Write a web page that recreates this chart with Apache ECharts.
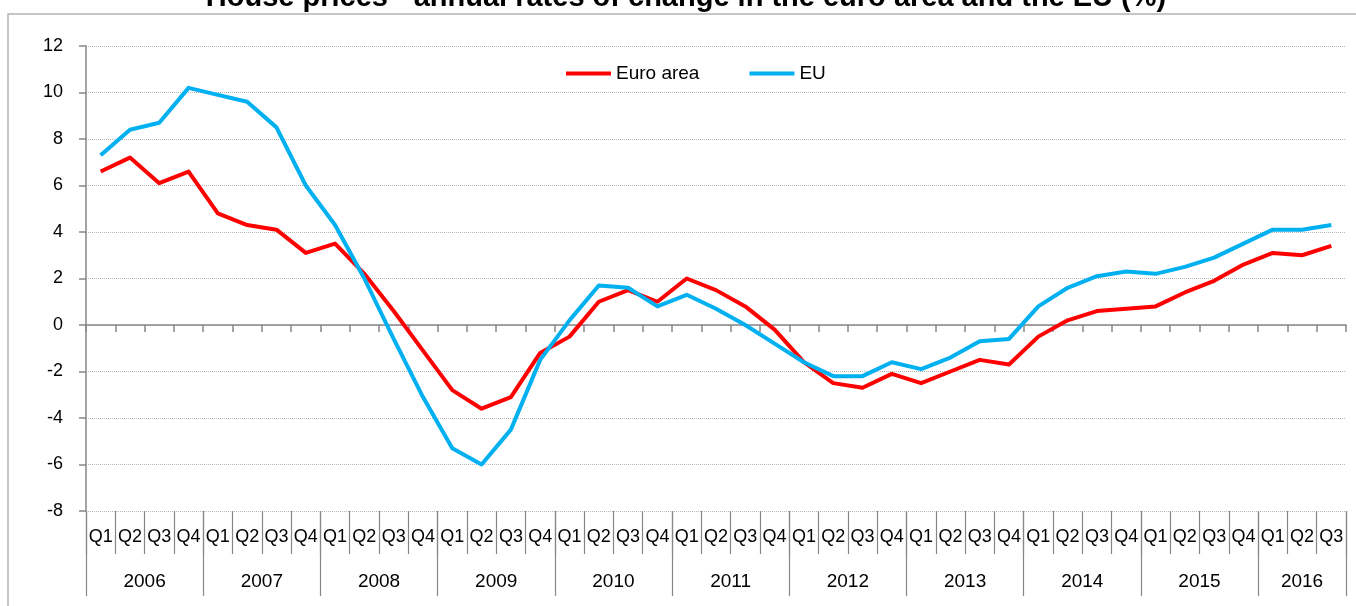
<!DOCTYPE html>
<html>
<head>
<meta charset="utf-8">
<script src="https://cdn.jsdelivr.net/npm/echarts@6/dist/echarts.min.js"></script>
<style>
html,body{margin:0;padding:0;background:#fff;}
#chart{width:1356px;height:606px;}
</style>
</head>
<body>
<div id="chart"></div>
<script>
const titleText = 'House prices - annual rates of change in the euro area and the EU (%)';
const years = ['2006','2007','2008','2009','2010','2011','2012','2013','2014','2015','2016'];
const quarterCounts = [4,4,4,4,4,4,4,4,4,4,3];
const quarterNames = ['Q1','Q2','Q3','Q4'];
const euroArea = [
  6.6, 7.2, 6.1, 6.6,
  4.8, 4.3, 4.1, 3.1,
  3.5, 2.2, 0.6, -1.1,
  -2.8, -3.6, -3.1, -1.2,
  -0.5, 1.0, 1.5, 1.0,
  2.0, 1.5, 0.8, -0.2,
  -1.6, -2.5, -2.7, -2.1,
  -2.5, -2.0, -1.5, -1.7,
  -0.5, 0.2, 0.6, 0.7,
  0.8, 1.4, 1.9, 2.6,
  3.1, 3.0, 3.4
];
const eu = [
  7.3, 8.4, 8.7, 10.2,
  9.9, 9.6, 8.5, 6.0,
  4.3, 2.0, -0.6, -3.1,
  -5.3, -6.0, -4.5, -1.5,
  0.2, 1.7, 1.6, 0.8,
  1.3, 0.7, 0.0, -0.8,
  -1.6, -2.2, -2.2, -1.6,
  -1.9, -1.4, -0.7, -0.6,
  0.8, 1.6, 2.1, 2.3,
  2.2, 2.5, 2.9, 3.5,
  4.1, 4.1, 4.3
];
const yMin = -8, yMax = 12, yStep = 2;

// Build category list and year group boundaries from the arrays above
const categories = [];
const yearBounds = [0];
const yearMids = [];
years.forEach((y, i) => {
  const start = categories.length;
  for (let q = 0; q < quarterCounts[i]; q++) categories.push(quarterNames[q]);
  yearBounds.push(categories.length);
  yearMids.push((start + categories.length) / 2);
});

const FONT = 'Liberation Sans';
const AXIS_GRAY = '#868686';

const chart = echarts.init(document.getElementById('chart'), null, {renderer: 'canvas'});
chart.setOption({
  backgroundColor: '#ffffff',
  animation: false,
  title: {
    text: titleText,
    left: 686,
    textAlign: 'center',
    top: -17,
    padding: 0,
    textStyle: {fontFamily: FONT, fontSize: 29, fontWeight: 'bold', color: '#000'}
  },
  graphic: [{
    type: 'rect',
    shape: {x: 8, y: 14, width: 1500, height: 800},
    style: {fill: 'none', stroke: '#b4b4b4', lineWidth: 1.5},
    silent: true,
    z: -1
  }],
  legend: {
    left: 566,
    top: 64,
    padding: 0,
    itemWidth: 45,
    itemHeight: 4,
    itemGap: 50,
    icon: 'rect',
    textStyle: {fontFamily: FONT, fontSize: 19, color: '#000'},
    data: ['Euro area', 'EU']
  },
  grid: {left: 86, right: 10, top: 46, bottom: 95, containLabel: false},
  xAxis: [
    {
      type: 'category',
      data: categories,
      boundaryGap: true,
      axisLine: {show: true, onZero: true, lineStyle: {color: AXIS_GRAY, width: 1.5}},
      axisTick: {show: true, interval: 0, length: 7, lineStyle: {color: AXIS_GRAY, width: 1.5}},
      axisLabel: {show: false},
      splitLine: {show: false}
    },
    {
      type: 'category',
      data: categories,
      position: 'bottom',
      boundaryGap: true,
      axisLine: {show: false, onZero: false},
      axisTick: {show: true, interval: 0, length: 43, lineStyle: {color: AXIS_GRAY, width: 1.2}},
      axisLabel: {show: true, interval: 0, margin: 17, fontFamily: FONT, fontSize: 18, color: '#000'},
      splitLine: {show: false}
    },
    {
      type: 'value',
      position: 'bottom',
      min: 0,
      max: categories.length,
      axisLine: {show: false, onZero: false},
      axisTick: {show: true, customValues: yearBounds, length: 85, lineStyle: {color: AXIS_GRAY, width: 1.2}},
      axisLabel: {
        show: true,
        customValues: yearMids,
        margin: 61,
        fontFamily: FONT, fontSize: 19, color: '#000',
        formatter: function (v) {
          const idx = yearMids.indexOf(v);
          return idx >= 0 ? years[idx] : '';
        }
      },
      splitLine: {show: false}
    }
  ],
  yAxis: {
    type: 'value',
    min: yMin,
    max: yMax,
    interval: yStep,
    axisLine: {show: true, lineStyle: {color: AXIS_GRAY, width: 1.5}},
    axisTick: {show: true, length: 7, lineStyle: {color: AXIS_GRAY, width: 1.5}},
    axisLabel: {margin: 23, fontFamily: FONT, fontSize: 18, color: '#000'},
    splitLine: {show: true, lineStyle: {color: '#b8b8b8', type: 'dotted', width: 1}}
  },
  series: [
    {
      name: 'Euro area',
      type: 'line',
      xAxisIndex: 0,
      data: euroArea,
      symbol: 'none',
      lineStyle: {color: '#ff0000', width: 4, join: 'round'},
      itemStyle: {color: '#ff0000'}
    },
    {
      name: 'EU',
      type: 'line',
      xAxisIndex: 0,
      data: eu,
      symbol: 'none',
      lineStyle: {color: '#00b0f0', width: 4, join: 'round'},
      itemStyle: {color: '#00b0f0'}
    }
  ]
});
</script>
</body>
</html>
